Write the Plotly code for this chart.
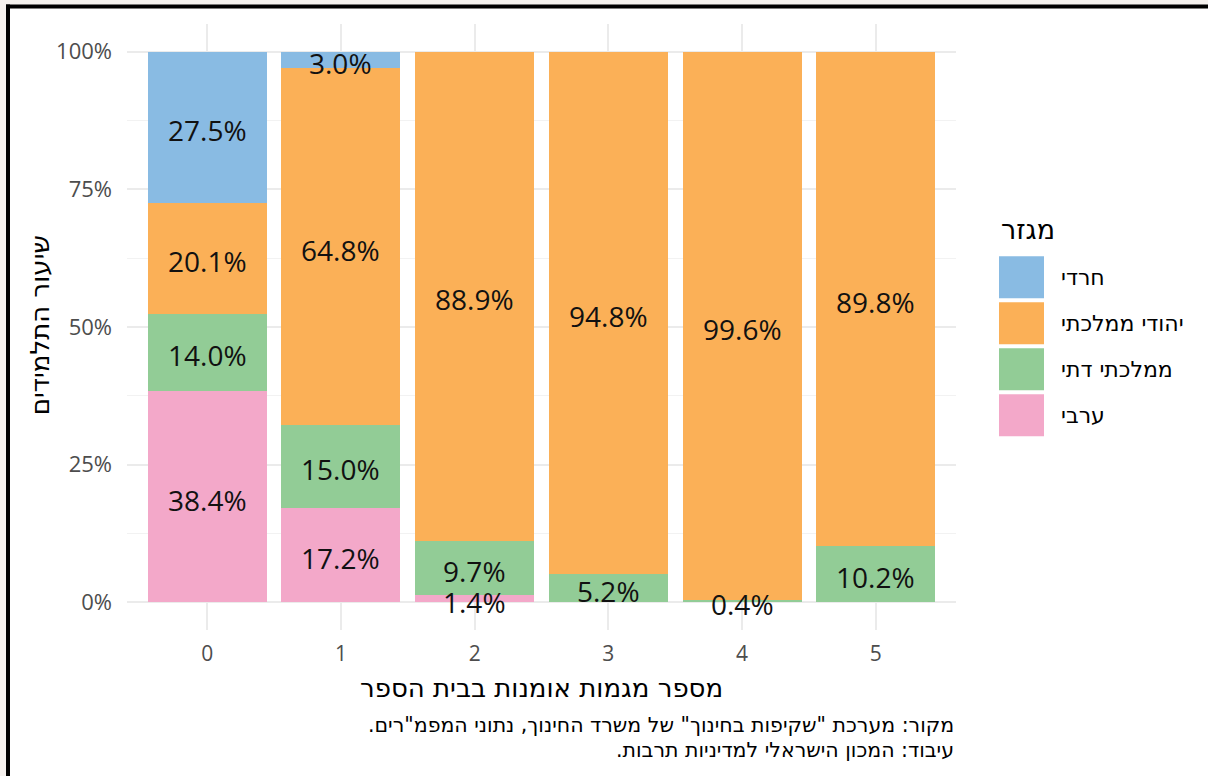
import numpy as np
import plotly.graph_objects as go

# ---- data ----
categories = [0, 1, 2, 3, 4, 5]
series_names = ["ערבי", "ממלכתי דתי", "יהודי ממלכתי", "חרדי"]  # bottom -> top
arabic = [38.4, 17.2, 1.4, 0.0, 0.0, 0.0]
religious = [14.0, 15.0, 9.7, 5.2, 0.4, 10.2]
state_jewish = [20.1, 64.8, 88.9, 94.8, 99.6, 89.8]
haredi = [27.5, 3.0, 0.0, 0.0, 0.0, 0.0]
y_ticks = [0, 25, 50, 75, 100]
legend_order = ["חרדי", "יהודי ממלכתי", "ממלכתי דתי", "ערבי"]

colors = {
    "ערבי": "#F3A8C9",
    "ממלכתי דתי": "#92CC96",
    "יהודי ממלכתי": "#FBB057",
    "חרדי": "#89BBE3",
}

x_title = "מספר מגמות אומנות בבית הספר"
y_title = "שיעור התלמידים"
legend_title = "מגזר"
RLM = "\u200f"
caption_lines = [
    'מקור: מערכת "שקיפות בחינוך" של משרד החינוך, נתוני המפמ"רים.' + RLM,
    "עיבוד: המכון הישראלי למדיניות תרבות." + RLM,
]

W, H = 1208, 776
L, R, T, B = 127, 956, 23.5, 630

HEB = "DejaVu Sans, Liberation Sans, sans-serif"
NUM = "Open Sans, Liberation Sans, sans-serif"


def px(x):
    return (x - L) / (R - L)


def py(y):
    return (B - y) / (B - T)


data = [arabic, religious, state_jewish, haredi]
fig = go.Figure()
for name, vals in zip(series_names, data):
    fig.add_trace(go.Bar(
        x=categories, y=vals, name=name, width=0.89,
        marker=dict(color=colors[name], line=dict(width=0)),
        showlegend=False, hoverinfo="skip",
    ))

annotations = []

# labels at segment centers (data coordinates)
arr = np.array(data)
cum = np.cumsum(arr, axis=0)
mids = cum - arr / 2
for i in range(arr.shape[0]):
    for j, c in enumerate(categories):
        if arr[i, j] > 0:
            annotations.append(dict(
                x=c, y=mids[i, j], xref="x", yref="y", text=f"{arr[i, j]:.1f}%",
                showarrow=False, yshift=-3, xanchor="center", yanchor="middle",
                font=dict(size=28, color="#111111", family=NUM),
            ))

shapes = []
# page background frame
shapes.append(dict(type="rect", xref="paper", yref="paper", layer="below",
                   x0=px(10), x1=px(W), y0=py(H), y1=py(8),
                   fillcolor="white", line=dict(width=0)))
shapes.append(dict(type="rect", xref="paper", yref="paper", layer="above",
                   x0=px(6), x1=px(10), y0=py(H), y1=py(4),
                   fillcolor="black", line=dict(width=0)))
shapes.append(dict(type="rect", xref="paper", yref="paper", layer="above",
                   x0=px(6), x1=px(W), y0=py(8), y1=py(4),
                   fillcolor="black", line=dict(width=0)))

# legend
annotations.append(dict(text=legend_title, xref="paper", yref="paper",
                        x=px(999), y=py(229), xanchor="left", yanchor="middle",
                        showarrow=False, font=dict(size=27, color="black", family=HEB)))
key_top = 256
for k, name in enumerate(legend_order):
    y0 = key_top + k * 46
    shapes.append(dict(type="rect", xref="paper", yref="paper",
                       x0=px(999), x1=px(1044), y0=py(y0 + 42), y1=py(y0),
                       fillcolor=colors[name], line=dict(width=0)))
    annotations.append(dict(text=name, xref="paper", yref="paper",
                            x=px(1059), y=py(y0 + 21), xanchor="left", yanchor="middle",
                            showarrow=False, font=dict(size=22, color="black", family=HEB)))

# axis titles
annotations.append(dict(text=x_title, xref="paper", yref="paper",
                        x=0.5, y=py(688), xanchor="center", yanchor="middle",
                        showarrow=False, font=dict(size=26, color="black", family=HEB)))
annotations.append(dict(text=y_title, xref="paper", yref="paper",
                        x=px(40), y=py(325), xanchor="center", yanchor="middle",
                        textangle=-90, showarrow=False,
                        font=dict(size=26, color="black", family=HEB)))
# caption (one annotation per line)
for line, yc in zip(caption_lines, [725, 750]):
    annotations.append(dict(text=line, xref="paper", yref="paper",
                            x=px(955), y=py(yc), xanchor="right", yanchor="middle",
                            align="right", showarrow=False, borderpad=0,
                            font=dict(size=20.5, color="black", family=HEB)))

fig.update_layout(
    width=W, height=H,
    margin=dict(l=L, r=W - R, t=T, b=H - B, pad=0),
    barmode="stack", bargap=0,
    paper_bgcolor="#F5F1EE", plot_bgcolor="white",
    shapes=shapes, annotations=annotations,
    showlegend=False,
    font=dict(family=NUM),
)
fig.update_xaxes(
    range=[-0.6, 5.6], tickvals=categories, ticktext=[str(c) for c in categories],
    showgrid=True, gridcolor="#EBEBEB", gridwidth=1.5, zeroline=False,
    showline=False, ticks="", ticklabelstandoff=9,
    tickfont=dict(size=21, color="#4D4D4D", family=NUM),
)
fig.update_yaxes(
    range=[-5, 105], tickvals=y_ticks, ticktext=[f"{v}%" for v in y_ticks],
    showgrid=True, gridcolor="#EBEBEB", gridwidth=1.5, zeroline=False,
    showline=False, ticks="", ticklabelstandoff=14,
    minor=dict(tickvals=[12.5, 37.5, 62.5, 87.5], showgrid=True,
               gridcolor="#F2F2F2", gridwidth=1),
    tickfont=dict(size=22, color="#4D4D4D", family=NUM),
)

fig.write_html(
    "out.html",
    config={"displayModeBar": False},
    post_script=(
        "document.body.style.margin='0';"
        "document.body.style.background='white';"
        "document.body.style.overflow='hidden';"
        "document.documentElement.style.overflow='hidden';"
    ),
)
